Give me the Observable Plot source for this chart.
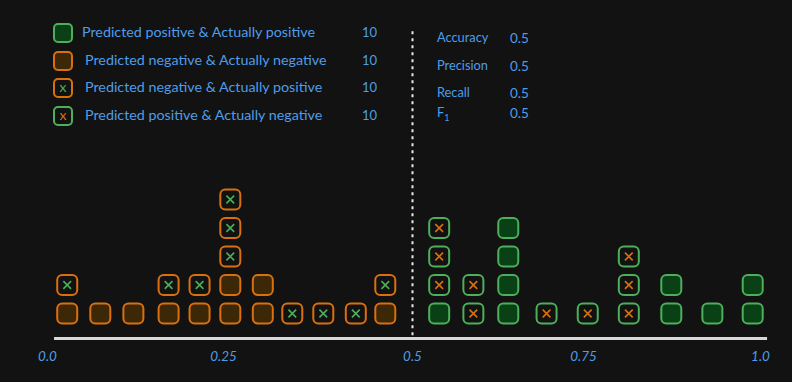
<!DOCTYPE html>
<html>
<head>
<meta charset="utf-8">
<script src="https://cdn.jsdelivr.net/npm/d3@7"></script>
<script src="https://cdn.jsdelivr.net/npm/@observablehq/plot@0.6"></script>
<style>
  html, body { margin: 0; padding: 0; background: #121212; }
  #wrap { position: relative; width: 792px; height: 382px; overflow: hidden; font-family: Lato, "Noto Sans", sans-serif; color: #4e9de8; }
  #wrap svg { position: absolute; left: 0; top: 0; }
  .row { position: absolute; display: flex; align-items: center; height: 22px; }
  .sw { width: 20px; height: 20px; box-sizing: border-box; border-radius: 5px; border: 2px solid; display: flex; align-items: center; justify-content: center; font-size: 14px; line-height: 1; padding-bottom: 2px; }
  .lab { position: absolute; font-size: 13px; white-space: nowrap; line-height: 1; }
</style>
</head>
<body>
<div id="wrap"></div>
<script>
// ---- data ----
const categories = ["TP", "TN", "FN", "FP"];
const categoryLabels = [
  "Predicted positive & Actually positive",
  "Predicted negative & Actually negative",
  "Predicted negative & Actually positive",
  "Predicted positive & Actually negative"
];
const categoryCounts = [10, 10, 10, 10];
const metricNames = ["Accuracy", "Precision", "Recall", "F\u2081"];
const metricValues = [0.5, 0.5, 0.5, 0.5];
const threshold = 0.5;

// predicted score of each column (x) and its stack, bottom to top
const columnScores = [0.028, 0.075, 0.122, 0.172, 0.216, 0.259, 0.302, 0.341, 0.382, 0.425, 0.464,
                      0.539, 0.589, 0.640, 0.696, 0.756, 0.814, 0.874, 0.932, 0.989];
const columnStacks = [
  ["TN", "FN"], ["TN"], ["TN"], ["TN", "FN"], ["TN", "FN"],
  ["TN", "TN", "FN", "FN", "FN"], ["TN", "TN"], ["FN"], ["FN"], ["FN"], ["TN", "FN"],
  ["TP", "FP", "FP", "FP"], ["FP", "FP"], ["TP", "TP", "TP", "TP"], ["FP"], ["FP"],
  ["FP", "FP", "FP"], ["TP", "TP"], ["TP"], ["TP", "TP"]
];
const tickValues = [0, 0.25, 0.5, 0.75, 1];
const tickLabels = ["0.0", "0.25", "0.5", "0.75", "1.0"];

// ---- styles ----
const BG = "#121212";
const BLUE = "#4e9de8";
const GREEN = "#4caf5a";
const GREEN_FILL = "#0a4016";
const ORANGE = "#d9700f";
const ORANGE_FILL = "#3c2806";
const strokeOf = {TP: GREEN, TN: ORANGE, FN: ORANGE, FP: GREEN};
const fillOf = {TP: GREEN_FILL, TN: ORANGE_FILL, FN: BG, FP: BG};
const crossOf = {FN: GREEN, FP: ORANGE};

const cells = [];
columnScores.forEach((s, i) => columnStacks[i].forEach((c, j) => cells.push({score: s, level: j, cat: c})));

const roundedSquare = {
  draw(ctx, size) {
    const s = Math.sqrt(size / Math.PI), c = Math.min(5, s / 2);
    ctx.moveTo(-s + c, -s);
    ctx.lineTo(s - c, -s); ctx.arcTo(s, -s, s, -s + c, c);
    ctx.lineTo(s, s - c); ctx.arcTo(s, s, s - c, s, c);
    ctx.lineTo(-s + c, s); ctx.arcTo(-s, s, -s, s - c, c);
    ctx.lineTo(-s, -s + c); ctx.arcTo(-s, -s, -s + c, -s, c);
    ctx.closePath();
  }
};

const axisY = -0.88, labelY = -1.5, topY = 9.9;

const plot = Plot.plot({
  width: 792, height: 382,
  margin: 0,
  style: {background: "transparent"},
  x: {type: "linear", domain: [0, 0.25, 0.5, 0.75, 1], range: [47, 223, 412, 583, 760], axis: null},
  y: {type: "linear", domain: [0, 4], range: [313, 199], axis: null},
  marks: [
    Plot.ruleX([threshold], {y1: axisY + 0.1, y2: topY, stroke: "#e8e8e8", strokeWidth: 2, strokeDasharray: "3,4"}),
    Plot.ruleY([axisY], {x1: 0.01, x2: 1.01, stroke: "#d8d8d8", strokeWidth: 3}),
    Plot.dot(cells, {x: "score", y: "level", r: 10, symbol: roundedSquare,
      stroke: d => strokeOf[d.cat], fill: d => fillOf[d.cat], strokeWidth: 2}),
    Plot.dot(cells.filter(d => crossOf[d.cat]), {x: "score", y: "level", r: 3.6, symbol: "times",
      stroke: d => crossOf[d.cat], strokeWidth: 1.6}),
    Plot.text(tickValues, {x: d => d, y: labelY, text: (d, i) => tickLabels[i], fill: BLUE,
      fontSize: 13.5, fontStyle: "italic", fontFamily: "Lato, sans-serif"})
  ]
});

const wrap = document.getElementById("wrap");
wrap.appendChild(plot);

// legend (HTML overlay)
categories.forEach((c, i) => {
  const top = 33 + i * 27.7;
  const row = document.createElement("div");
  row.className = "row";
  row.style.left = "53px";
  row.style.top = (top - 11) + "px";
  const sw = document.createElement("div");
  sw.className = "sw";
  sw.style.borderColor = strokeOf[c];
  sw.style.background = fillOf[c];
  if (crossOf[c]) { sw.style.color = crossOf[c]; sw.textContent = "x"; }
  row.appendChild(sw);
  wrap.appendChild(row);

  const lab = document.createElement("div");
  lab.className = "lab";
  lab.style.fontSize = "14.3px";
  lab.style.left = (i === 0 ? 82 : 85) + "px";
  lab.style.top = (top - 8) + "px";
  lab.textContent = categoryLabels[i];
  wrap.appendChild(lab);

  const cnt = document.createElement("div");
  cnt.className = "lab";
  cnt.style.left = "362px";
  cnt.style.top = (top - 7) + "px";
  cnt.textContent = categoryCounts[i];
  wrap.appendChild(cnt);
});

// metrics (HTML overlay)
metricNames.forEach((m, i) => {
  const top = [38, 66, 93, 113][i];
  const lab = document.createElement("div");
  lab.className = "lab";
  lab.style.left = "437px";
  lab.style.top = (top - 7) + "px";
  lab.style.fontSize = "12.8px";
  if (i === 3) lab.innerHTML = "F<sub style='font-size:9px'>1</sub>";
  else lab.textContent = m;
  wrap.appendChild(lab);
  const val = document.createElement("div");
  val.className = "lab";
  val.style.left = "510px";
  val.style.top = (top - 6) + "px";
  val.style.fontSize = "13.5px";
  val.textContent = metricValues[i].toFixed(1);
  wrap.appendChild(val);
});
</script>
</body>
</html>
